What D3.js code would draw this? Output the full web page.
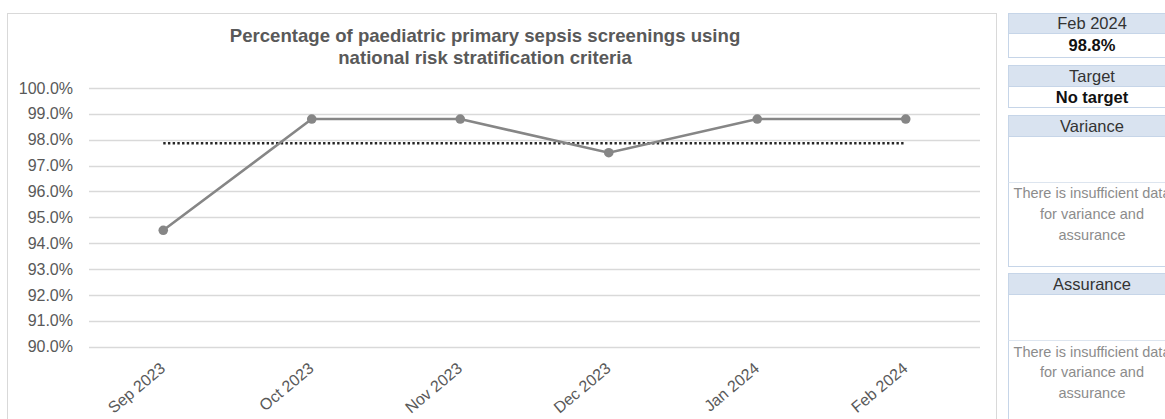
<!DOCTYPE html>
<html>
<head>
<meta charset="utf-8">
<script src="https://cdn.jsdelivr.net/npm/d3@7"></script>
<style>
  html, body { margin: 0; padding: 0; background: #fff; }
  svg { display: block; font-family: "Liberation Sans", Arial, sans-serif; }
</style>
</head>
<body>
<svg id="chart" width="1165" height="419"></svg>
<script>
// Monthly screening percentages
const months = ["Sep 2023", "Oct 2023", "Nov 2023", "Dec 2023", "Jan 2024", "Feb 2024"];
const percentValues = [94.5, 98.8, 98.8, 97.5, 98.8, 98.8];
const yTicks = [90, 91, 92, 93, 94, 95, 96, 97, 98, 99, 100];

const titleLines = ["Percentage of paediatric primary sepsis screenings using",
                    "national risk stratification criteria"];

// Summary panel contents
const latestLabel = "Feb 2024";
const latestValue = "98.8%";
const targetValue = "No target";
const noDataText = ["There is insufficient data", "for variance and", "assurance"];

const svg = d3.select("#chart");
const FONT = "\"Liberation Sans\", Arial, sans-serif";

// ---- Chart panel ----
svg.append("rect")
  .attr("x", 7.5).attr("y", 13.5)
  .attr("width", 989).attr("height", 430)
  .attr("fill", "#fff").attr("stroke", "#d9d9d9");

const plot = { left: 89, right: 980, top: 88, bottom: 346.7 };

const x = d3.scalePoint().domain(months).range([plot.left, plot.right]).padding(0.5);
const y = d3.scaleLinear().domain([90, 100]).range([plot.bottom, plot.top]);

// Title
svg.append("text")
  .attr("x", 485).attr("y", 42)
  .attr("text-anchor", "middle")
  .attr("font-size", 18.6).attr("font-weight", "bold").attr("fill", "#595959")
  .selectAll("tspan").data(titleLines).join("tspan")
  .attr("x", 485).attr("dy", (d, i) => i === 0 ? 0 : 22)
  .text(d => d);

// Horizontal gridlines
svg.append("g").selectAll("line").data(yTicks).join("line")
  .attr("x1", plot.left).attr("x2", plot.right)
  .attr("y1", d => Math.round(y(d)) + 0.5).attr("y2", d => Math.round(y(d)) + 0.5)
  .attr("stroke", "#d9d9d9").attr("stroke-width", 1.3);

// Y axis labels
const yAxis = d3.axisLeft(y).tickValues(yTicks).tickFormat(d => d.toFixed(1) + "%").tickSize(0).tickPadding(0);
const gy = svg.append("g").attr("transform", `translate(${73},0)`).call(yAxis);
gy.select(".domain").remove();
gy.selectAll("text").attr("font-size", 16).attr("fill", "#595959").attr("font-family", FONT);

// X axis labels (rotated)
const xAxis = d3.axisBottom(x).tickSize(0).tickPadding(0);
const gx = svg.append("g").attr("transform", `translate(0,${plot.bottom})`).call(xAxis);
gx.select(".domain").remove();
gx.selectAll("text")
  .attr("font-size", 16).attr("fill", "#595959").attr("font-family", FONT)
  .attr("text-anchor", "end")
  .attr("dy", "0.35em").attr("y", 0)
  .attr("transform", "translate(-1,19) rotate(-40)");

// Average reference line (dotted)
const meanValue = d3.mean(percentValues);
svg.append("line")
  .attr("x1", x(months[0])).attr("x2", x(months[months.length - 1]))
  .attr("y1", y(meanValue)).attr("y2", y(meanValue))
  .attr("stroke", "#262626").attr("stroke-width", 2.5)
  .attr("stroke-dasharray", "2.4,2.3");

// Data line and markers
const line = d3.line().x((d, i) => x(months[i])).y(d => y(d));
svg.append("path")
  .datum(percentValues)
  .attr("d", line)
  .attr("fill", "none").attr("stroke", "#868686").attr("stroke-width", 2.6);

svg.append("g").selectAll("circle").data(percentValues).join("circle")
  .attr("cx", (d, i) => x(months[i])).attr("cy", d => y(d))
  .attr("r", 4.8).attr("fill", "#868686");

// ---- Summary panel ----
const panelX = 1008.5, panelW = 170, textCx = 1092;
const headFill = "#d9e3f0", boxStroke = "#c6d5e8";

function header(y0, h, label) {
  svg.append("rect").attr("x", panelX).attr("y", y0).attr("width", panelW).attr("height", h)
    .attr("fill", headFill).attr("stroke", boxStroke);
  svg.append("text").attr("x", textCx).attr("y", y0 + h / 2).attr("dy", "0.36em")
    .attr("text-anchor", "middle").attr("font-size", 16.5).attr("fill", "#333").text(label);
}
function valueBox(y0, h, label) {
  svg.append("rect").attr("x", panelX).attr("y", y0).attr("width", panelW).attr("height", h)
    .attr("fill", "#fff").attr("stroke", boxStroke);
  svg.append("text").attr("x", textCx).attr("y", y0 + h / 2).attr("dy", "0.36em")
    .attr("text-anchor", "middle").attr("font-size", 16.5).attr("font-weight", "bold")
    .attr("fill", "#111").text(label);
}
function noteBox(y0, h, divY, lineYs) {
  svg.append("rect").attr("x", panelX).attr("y", y0).attr("width", panelW).attr("height", h)
    .attr("fill", "#fff").attr("stroke", boxStroke);
  svg.append("line").attr("x1", panelX).attr("x2", panelX + panelW)
    .attr("y1", divY).attr("y2", divY).attr("stroke", "#dde5ef");
  svg.append("g").selectAll("text").data(noteTextRows(lineYs)).join("text")
    .attr("x", textCx).attr("y", d => d.y).attr("dy", "0.36em")
    .attr("text-anchor", "middle").attr("font-size", 14.5).attr("fill", "#8c8c8c")
    .text(d => d.t);
}
function noteTextRows(ys) { return noDataText.map((t, i) => ({ t, y: ys[i] })); }

header(13.5, 20, latestLabel);
valueBox(33.5, 24, latestValue);
header(65.5, 21, "Target");
valueBox(86.5, 21, targetValue);
header(115.5, 21, "Variance");
noteBox(136.5, 130, 182.5, [193, 214, 235]);
header(273.5, 21, "Assurance");
noteBox(294.5, 140, 340.5, [352, 372, 393]);
</script>
</body>
</html>
